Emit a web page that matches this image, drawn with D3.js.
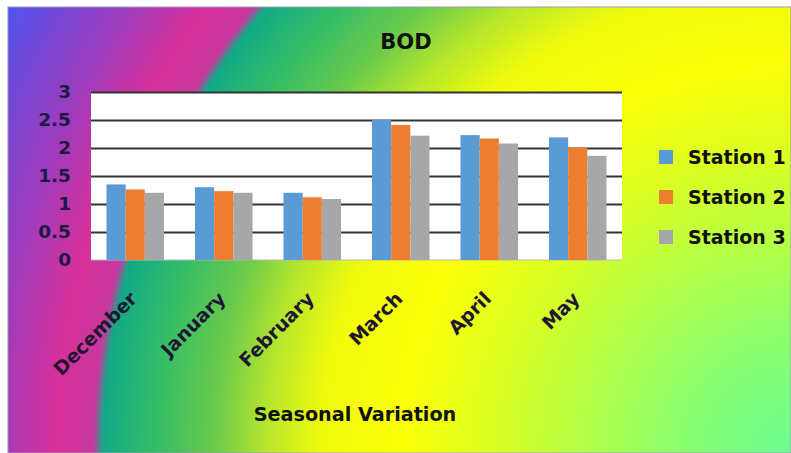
<!DOCTYPE html>
<html>
<head>
<meta charset="utf-8">
<script src="https://cdn.jsdelivr.net/npm/d3@7"></script>
<style>
  html, body { margin: 0; padding: 0; background: #ffffff; }
  svg { display: block; }
  text { font-family: "DejaVu Sans", sans-serif; font-weight: bold; }
</style>
</head>
<body>
<svg id="chart" width="791" height="453"></svg>
<script>
// BOD readings per month for three sampling stations
const months = ["December", "January", "February", "March", "April", "May"];
const seriesNames = ["Station 1", "Station 2", "Station 3"];
const station1 = [1.35, 1.30, 1.20, 2.50, 2.23, 2.19];
const station2 = [1.26, 1.23, 1.12, 2.41, 2.17, 2.01];
const station3 = [1.20, 1.20, 1.09, 2.22, 2.08, 1.86];
const yTicks = [0, 0.5, 1, 1.5, 2, 2.5, 3];
const yTickLabels = ["0", "0.5", "1", "1.5", "2", "2.5", "3"];
const seriesColors = ["#5b9bd5", "#ed7d31", "#a7a7a9"];

const seriesValues = [station1, station2, station3];

const W = 791, H = 453;
const plot = { left: 91, right: 622, top: 92, bottom: 260 };

const svg = d3.select("#chart");
const defs = svg.append("defs");

// Rainbow radial fill spreading from the lower-right corner
const grad = defs.append("radialGradient")
  .attr("id", "bgFill")
  .attr("gradientUnits", "userSpaceOnUse")
  .attr("cx", W).attr("cy", H).attr("r", 911);
const stops = [
  [0,   "#6cff92"],
  [100, "#86ff72"],
  [200, "#b0ff4a"],
  [300, "#dcff22"],
  [390, "#fbff06"],
  [470, "#f0fb0c"],
  [525, "#b6e62c"],
  [575, "#6ccb4a"],
  [635, "#34bd66"],
  [688, "#12aa86"],
  [698, "#c8389e"],
  [735, "#d8309a"],
  [800, "#9c3cbe"],
  [860, "#7048d8"],
  [911, "#4858f6"]
];
stops.forEach(([r, c]) => {
  grad.append("stop").attr("offset", (r / 911).toFixed(4)).attr("stop-color", c);
});

svg.append("rect")
  .attr("x", 8).attr("y", 7)
  .attr("width", W - 8).attr("height", H - 7)
  .attr("fill", "url(#bgFill)")
  .attr("stroke", "#9a9ab8").attr("stroke-width", 1);

// Scales
const x0 = d3.scaleBand()
  .domain(months)
  .range([plot.left, plot.right])
  .paddingInner(0.35)
  .paddingOuter(0.175);
const x1 = d3.scaleBand()
  .domain(seriesNames)
  .range([0, x0.bandwidth()]);
const y = d3.scaleLinear()
  .domain([0, 3])
  .range([plot.bottom, plot.top]);

// Plot area
svg.append("rect")
  .attr("x", plot.left).attr("y", plot.top)
  .attr("width", plot.right - plot.left).attr("height", plot.bottom - plot.top)
  .attr("fill", "#ffffff");

// Horizontal gridlines
const gridAxis = d3.axisLeft(y)
  .tickValues(yTicks.filter(v => v > 0))
  .tickSize(-(plot.right - plot.left))
  .tickFormat("");
const grid = svg.append("g")
  .attr("transform", `translate(${plot.left},0)`)
  .call(gridAxis);
grid.select(".domain").remove();
grid.selectAll(".tick line")
  .attr("stroke", "#333333")
  .attr("stroke-width", 2);

// Baseline
svg.append("line")
  .attr("x1", plot.left).attr("x2", plot.right)
  .attr("y1", y(0)).attr("y2", y(0))
  .attr("stroke", "#b8b8b8").attr("stroke-width", 1);

// Bars
const groups = svg.append("g").selectAll("g")
  .data(months)
  .join("g")
  .attr("transform", d => `translate(${x0(d)},0)`);
groups.selectAll("rect")
  .data((m, i) => seriesNames.map((s, k) => ({ s, k, v: seriesValues[k][i] })))
  .join("rect")
  .attr("x", d => x1(d.s))
  .attr("width", x1.bandwidth())
  .attr("y", d => y(d.v))
  .attr("height", d => y(0) - y(d.v))
  .attr("fill", d => seriesColors[d.k]);

// Y axis labels
const yAxis = d3.axisLeft(y)
  .tickValues(yTicks)
  .tickSize(0)
  .tickPadding(0)
  .tickFormat((d, i) => yTickLabels[i]);
const yg = svg.append("g")
  .attr("transform", `translate(71,0)`)
  .call(yAxis);
yg.select(".domain").remove();
yg.selectAll("text")
  .attr("font-family", "DejaVu Sans, sans-serif")
  .attr("font-weight", "bold")
  .attr("font-size", 18.5)
  .attr("fill", "#1c1a44");

// X axis labels (rotated)
const xAxis = d3.axisBottom(x0).tickSize(0).tickPadding(0);
const xg = svg.append("g")
  .attr("transform", `translate(0,300)`)
  .call(xAxis);
xg.select(".domain").remove();
xg.selectAll("text")
  .attr("font-family", "DejaVu Sans, sans-serif")
  .attr("font-weight", "bold")
  .attr("font-size", 19)
  .attr("fill", "#1e1632")
  .attr("text-anchor", "end")
  .attr("dy", 0)
  .attr("y", 0)
  .attr("transform", "translate(3,0) rotate(-45)");

// Title
svg.append("text")
  .attr("x", 406).attr("y", 49)
  .attr("text-anchor", "middle")
  .attr("font-size", 21)
  .attr("fill", "#111111")
  .text("BOD");

// Axis title
svg.append("text")
  .attr("x", 355).attr("y", 421)
  .attr("text-anchor", "middle")
  .attr("font-size", 19.2)
  .attr("fill", "#111111")
  .text("Seasonal Variation");

// Legend
const legend = svg.append("g").selectAll("g")
  .data(seriesNames)
  .join("g")
  .attr("transform", (d, i) => `translate(659,${157 + i * 40})`);
legend.append("rect")
  .attr("x", 0).attr("y", -7)
  .attr("width", 14).attr("height", 14)
  .attr("fill", (d, i) => seriesColors[i]);
legend.append("text")
  .attr("x", 29).attr("y", 0)
  .attr("dy", "0.36em")
  .attr("font-size", 19)
  .attr("fill", "#111111")
  .text(d => d);
</script>
</body>
</html>
